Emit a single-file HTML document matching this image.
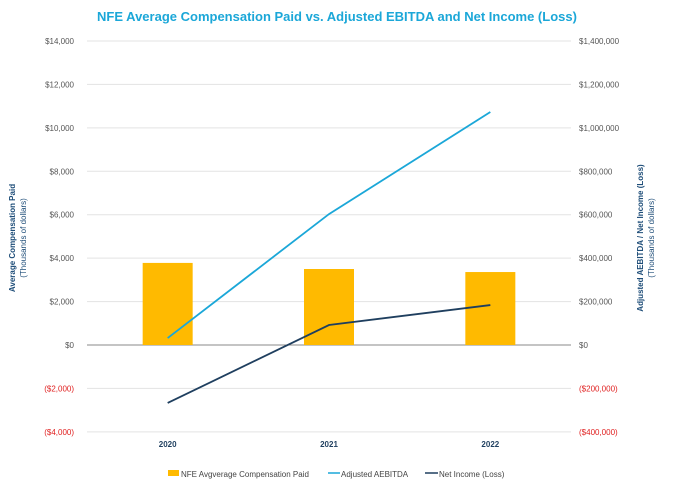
<!DOCTYPE html>
<html><head><meta charset="utf-8"><style>
body{margin:0;background:#fff;}
svg{font-family:"Liberation Sans",sans-serif;}
</style></head><body>
<svg id="c" width="675" height="491">
<text x="337" y="21" text-anchor="middle" font-size="13" font-weight="bold" fill="#1BA7D8">NFE Average Compensation Paid vs. Adjusted EBITDA and Net Income (Loss)</text>
<g id="grid"></g><g id="bars"></g><g id="lines"></g><g id="axes"></g>
<text transform="translate(15,238) rotate(-90)" text-anchor="middle" font-size="8" font-weight="bold" fill="#1F4E79">Average Compensation Paid</text>
<text transform="translate(26,238) rotate(-90)" text-anchor="middle" font-size="8" fill="#1F4E79">(Thousands of dollars)</text>
<text transform="translate(643,238) rotate(-90)" text-anchor="middle" font-size="8" font-weight="bold" fill="#1F4E79">Adjusted AEBITDA / Net Income (Loss)</text>
<text transform="translate(654,238) rotate(-90)" text-anchor="middle" font-size="8" fill="#1F4E79">(Thousands of dollars)</text>
<g font-size="8" fill="#444">
<rect x="168" y="470" width="11" height="6" fill="#FFBA00"/>
<text x="181" y="477">NFE Avgverage Compensation Paid</text>
<line x1="328" y1="473" x2="340" y2="473" stroke="#1BA7D8" stroke-width="1.5"/>
<text x="341" y="477">Adjusted AEBITDA</text>
<line x1="425" y1="473" x2="438" y2="473" stroke="#1F3F5F" stroke-width="1.5"/>
<text x="439" y="477">Net Income (Loss)</text>
</g>
</svg>
<script>
const categories=["2020","2021","2022"];
const compensation=[3780,3500,3360];
const ebitda=[32000,603000,1073000];
const netIncome=[-267000,92000,184000];
const leftTicks=[14000,12000,10000,8000,6000,4000,2000,0,-2000,-4000];
const rightTicks=[1400000,1200000,1000000,800000,600000,400000,200000,0,-200000,-400000];
const NS="http://www.w3.org/2000/svg";
const L=87,R=571,Y0=345,PX=304/14000;
const yL=v=>Y0-v*PX;
const yR=v=>Y0-v*PX/100;
const xC=i=>L+(R-L)*(i+0.5)/categories.length;
function mk(tag,attrs,parent){const e=document.createElementNS(NS,tag);for(const k in attrs)e.setAttribute(k,attrs[k]);parent.appendChild(e);return e;}
const fmt=v=>{const s="$"+Math.abs(v).toLocaleString("en-US");return v<0?"("+s+")":s;};
const grid=document.getElementById("grid"),axes=document.getElementById("axes");
leftTicks.forEach((t,i)=>{
 const y=yL(t);
 const g=mk("line",{x1:L,x2:R,y1:y,y2:y,stroke:t===0?"#888":"#e3e3e3","stroke-width":1},grid);
 
 
 const tl=mk("text",{x:L-13,y:y+3,"text-anchor":"end","font-size":"8",fill:t<0?"#E02020":"#555"},axes);
 tl.textContent=fmt(t);
 
 
 const rt=rightTicks[i];
 const tr=mk("text",{x:579,y:yR(rt)+3,"font-size":"8",fill:rt<0?"#E02020":"#555"},axes);
 tr.textContent=fmt(rt);
 
 
});
categories.forEach((c,i)=>{
 const t=mk("text",{x:xC(i),y:447,"text-anchor":"middle","font-size":"8","font-weight":"bold",fill:"#1F3F5F"},axes);
 t.textContent=c;
 
 
});
const bars=document.getElementById("bars");
compensation.forEach((v,i)=>{
 const b=mk("rect",{x:xC(i)-25,width:50,y:Math.min(yL(v),Y0),height:Math.abs(Y0-yL(v)),fill:"#FFBA00"},bars);
 
 
});
const lines=document.getElementById("lines");
const e=mk("polyline",{points:ebitda.map((v,i)=>xC(i)+","+yR(v)).join(" "),fill:"none",stroke:"#1BA7D8","stroke-width":1.8},lines);


const n=mk("polyline",{points:netIncome.map((v,i)=>xC(i)+","+yR(v)).join(" "),fill:"none",stroke:"#1F3F5F","stroke-width":1.8},lines);


</script>
</body></html>
